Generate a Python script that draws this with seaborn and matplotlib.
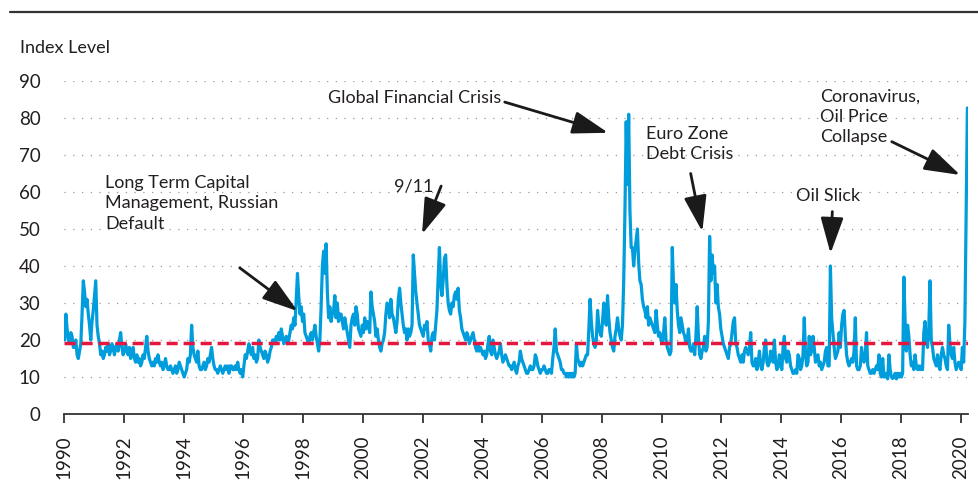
import numpy as np
import pandas as pd
import matplotlib
matplotlib.use("Agg")
import matplotlib.pyplot as plt
from matplotlib import font_manager
from matplotlib.lines import Line2D
import seaborn as sns

# Semi-monthly readings (two per month) of the index level
v1990 = [20, 27, 23, 20, 19, 22, 21, 18, 18, 20, 16, 15, 17, 19, 27, 36, 33, 29, 31, 27, 24, 20, 25, 28]
v1991 = [32, 36, 24, 21, 19, 16, 17, 15, 16, 18, 17, 19, 16, 17, 19, 18, 16, 18, 19, 17, 20, 22, 18, 16]
v1992 = [17, 19, 17, 16, 18, 15, 17, 18, 15, 14, 16, 14, 15, 13, 14, 16, 15, 18, 21, 17, 15, 14, 13, 14]
v1993 = [13, 15, 14, 16, 14, 13, 14, 12, 13, 15, 13, 12, 12, 13, 12, 11, 12, 13, 11, 12, 14, 13, 12, 11]
v1994 = [10, 11, 12, 15, 14, 16, 24, 18, 16, 15, 14, 17, 13, 12, 12, 13, 14, 12, 13, 15, 14, 16, 18, 15]
v1995 = [13, 12, 12, 11, 12, 13, 12, 11, 12, 13, 12, 13, 11, 13, 13, 12, 12, 13, 12, 14, 12, 11, 12, 10]
v1996 = [13, 16, 15, 17, 19, 17, 16, 18, 15, 16, 14, 15, 20, 18, 17, 16, 15, 17, 16, 14, 15, 17, 18, 20]
v1997 = [20, 19, 21, 20, 22, 20, 23, 21, 19, 20, 21, 19, 20, 22, 24, 23, 26, 24, 31, 38, 32, 27, 29, 25]
v1998 = [27, 22, 21, 20, 19, 21, 22, 20, 22, 24, 21, 19, 17, 20, 29, 40, 44, 38, 46, 33, 26, 29, 25, 27]
v1999 = [28, 32, 26, 30, 25, 27, 27, 25, 23, 26, 24, 22, 20, 18, 24, 26, 27, 24, 29, 27, 23, 22, 21, 24]
v2000 = [22, 26, 23, 25, 24, 22, 33, 29, 27, 25, 21, 23, 20, 18, 17, 19, 20, 22, 27, 30, 29, 26, 31, 27]
v2001 = [26, 24, 22, 25, 31, 34, 30, 27, 24, 22, 23, 20, 23, 21, 22, 24, 43, 38, 33, 30, 27, 24, 23, 22]
v2002 = [21, 24, 23, 25, 20, 19, 17, 21, 22, 20, 24, 28, 37, 45, 35, 32, 36, 42, 43, 35, 30, 28, 27, 30]
v2003 = [29, 32, 33, 31, 34, 28, 26, 23, 22, 21, 20, 22, 21, 19, 20, 21, 22, 20, 18, 17, 19, 17, 18, 17]
v2004 = [16, 17, 15, 16, 19, 21, 17, 16, 20, 18, 16, 15, 16, 17, 19, 16, 14, 15, 16, 15, 14, 13, 13, 12]
v2005 = [13, 14, 12, 11, 13, 14, 17, 15, 14, 13, 12, 11, 11, 12, 13, 12, 12, 13, 16, 15, 13, 12, 11, 12]
v2006 = [12, 13, 12, 11, 11, 12, 12, 11, 15, 18, 23, 17, 16, 15, 14, 12, 12, 11, 11, 10, 11, 10, 11, 10]
v2007 = [11, 10, 11, 19, 15, 14, 13, 14, 13, 14, 15, 16, 16, 23, 31, 25, 21, 19, 18, 20, 28, 24, 22, 21]
v2008 = [25, 30, 26, 24, 32, 26, 22, 20, 18, 17, 21, 23, 26, 23, 21, 20, 24, 36, 55, 79, 62, 81, 55, 45]
v2009 = [45, 40, 44, 47, 50, 41, 36, 35, 31, 29, 28, 26, 29, 24, 26, 25, 24, 23, 22, 28, 24, 21, 22, 20]
v2010 = [19, 22, 26, 20, 18, 17, 16, 17, 45, 35, 30, 35, 28, 24, 22, 26, 24, 22, 21, 19, 20, 23, 18, 17]
v2011 = [17, 19, 16, 21, 29, 21, 16, 15, 17, 18, 21, 17, 18, 25, 48, 36, 43, 38, 40, 30, 35, 29, 27, 23]
v2012 = [21, 19, 18, 17, 16, 15, 18, 19, 22, 25, 26, 19, 18, 16, 15, 14, 16, 14, 17, 18, 17, 16, 18, 22]
v2013 = [14, 13, 13, 15, 12, 14, 17, 13, 12, 14, 18, 20, 14, 13, 14, 17, 16, 14, 20, 14, 12, 13, 16, 13]
v2014 = [12, 18, 21, 15, 14, 17, 16, 13, 12, 11, 11, 12, 11, 16, 15, 12, 13, 16, 26, 16, 13, 14, 21, 16]
v2015 = [17, 21, 18, 14, 15, 16, 13, 14, 12, 13, 14, 17, 18, 13, 13, 40, 26, 22, 18, 15, 16, 17, 22, 18]
v2016 = [24, 27, 28, 21, 16, 14, 13, 14, 15, 14, 17, 26, 13, 12, 12, 13, 18, 15, 14, 16, 22, 13, 12, 11]
v2017 = [11, 12, 11, 12, 13, 12, 16, 11, 10, 15, 10, 11, 10, 9.5, 16, 12, 10, 9.6, 10, 11, 9.5, 11, 10, 11]
v2018 = [10, 11, 37, 25, 17, 24, 21, 16, 13, 14, 12, 16, 13, 12, 13, 12, 13, 12, 22, 25, 20, 18, 23, 36]
v2019 = [20, 18, 15, 14, 13, 16, 13, 12, 16, 18, 16, 15, 13, 12, 24, 19, 16, 15, 18, 14, 12, 13, 14, 13]
v2020 = [12, 18, 14, 25, 54, 82.7]

yearly = [v1990, v1991, v1992, v1993, v1994, v1995, v1996, v1997, v1998, v1999,
          v2000, v2001, v2002, v2003, v2004, v2005, v2006, v2007, v2008, v2009,
          v2010, v2011, v2012, v2013, v2014, v2015, v2016, v2017, v2018, v2019, v2020]
start_year = 1990
long_run_avg = 19.2

tick_years = list(range(1990, 2021, 2))
y_ticks = list(range(0, 91, 10))

annotations = [
    ("Long Term Capital\nManagement, Russian\nDefault", (1991.37, 64.6), (1995.88, 39.5), (1997.82, 27.8)),
    ("9/11", (2001.05, 63.6), (2002.62, 61.6), (2001.98, 48.6)),
    ("Global Financial Crisis", (1998.82, 87.7), (2004.75, 84.3), (2008.21, 76.0)),
    ("Euro Zone\nDebt Crisis", (2009.47, 77.8), (2010.97, 65.0), (2011.36, 49.3)),
    ("Oil Slick", (2014.48, 61.2), (2015.71, 54.7), (2015.65, 43.4)),
    ("Coronavirus,\nOil Price\nCollapse", (2015.31, 88.0), (2017.70, 73.6), (2019.99, 64.6)),
]

# ---- build the series ----
xs, ys = [], []
for k, vals in enumerate(yearly):
    for i, v in enumerate(vals):
        xs.append(start_year + k + (i + 0.5) / 24.0)
        ys.append(v)
df = pd.DataFrame({"year": xs, "level": ys})

sns.set_theme(style="white")


def pick_font():
    for name in ["Liberation Sans Narrow", "Lato", "Open Sans", "DejaVu Sans"]:
        try:
            font_manager.findfont(font_manager.FontProperties(family=name), fallback_to_default=False)
            return name
        except Exception:
            continue
    return "DejaVu Sans"


font = pick_font()
plt.rcParams["font.family"] = [font, "DejaVu Sans"]

W, H = 979, 493
fig = plt.figure(figsize=(W / 100, H / 100), dpi=100)
ax = fig.add_axes([64 / W, 1 - 414 / H, (968 - 64) / W, (414 - 81) / H])

text_color = "#231f20"
fs = 13

for yv in y_ticks[1:]:
    ax.axhline(yv, color="#9a9a9a", lw=0.9, linestyle=(0, (1, 6)), zorder=0)

sns.lineplot(data=df, x="year", y="level", ax=ax, color="#009ddc", lw=2.3, zorder=3)
ax.axhline(long_run_avg, color="#e4173e", lw=2.5, linestyle=(0, (3.2, 1.7)), zorder=4)

ax.set_xlim(1990, 2020.25)
ax.set_ylim(0, 90)
ax.set_xticks(tick_years)
ax.set_xticklabels([str(t) for t in tick_years], rotation=90, fontsize=fs + 0.5, color=text_color)
ax.set_yticks(y_ticks)
ax.set_yticklabels([str(t) for t in y_ticks], fontsize=fs + 0.5, color=text_color)
ax.set_xlabel("")
ax.set_ylabel("")
for s in ["top", "right", "left"]:
    ax.spines[s].set_visible(False)
ax.spines["bottom"].set_color("#333333")
ax.spines["bottom"].set_linewidth(1.3)
ax.tick_params(axis="x", bottom=True, length=6.5, width=1.3, color="#333333", pad=9)
ax.tick_params(axis="y", left=False, length=0, pad=17)

for text, tpos, tail, tip in annotations:
    ax.text(tpos[0], tpos[1], text, fontsize=fs, color=text_color, ha="left", va="top",
            linespacing=1.33, zorder=5)
    ax.annotate("", xy=tip, xytext=tail,
                arrowprops=dict(arrowstyle="-|>,head_length=1.1,head_width=0.35",
                                mutation_scale=20, lw=2.0, color="#1a1a1a",
                                shrinkA=0, shrinkB=0), zorder=5)

fig.text(20 / W, 1 - 48 / H, "Index Level", fontsize=fs, color=text_color, ha="left", va="center")
fig.add_artist(Line2D([10 / W, 1.0], [1 - 12 / H, 1 - 12 / H], color="#333333", lw=1.6))

fig.savefig("out.png", dpi=100)
